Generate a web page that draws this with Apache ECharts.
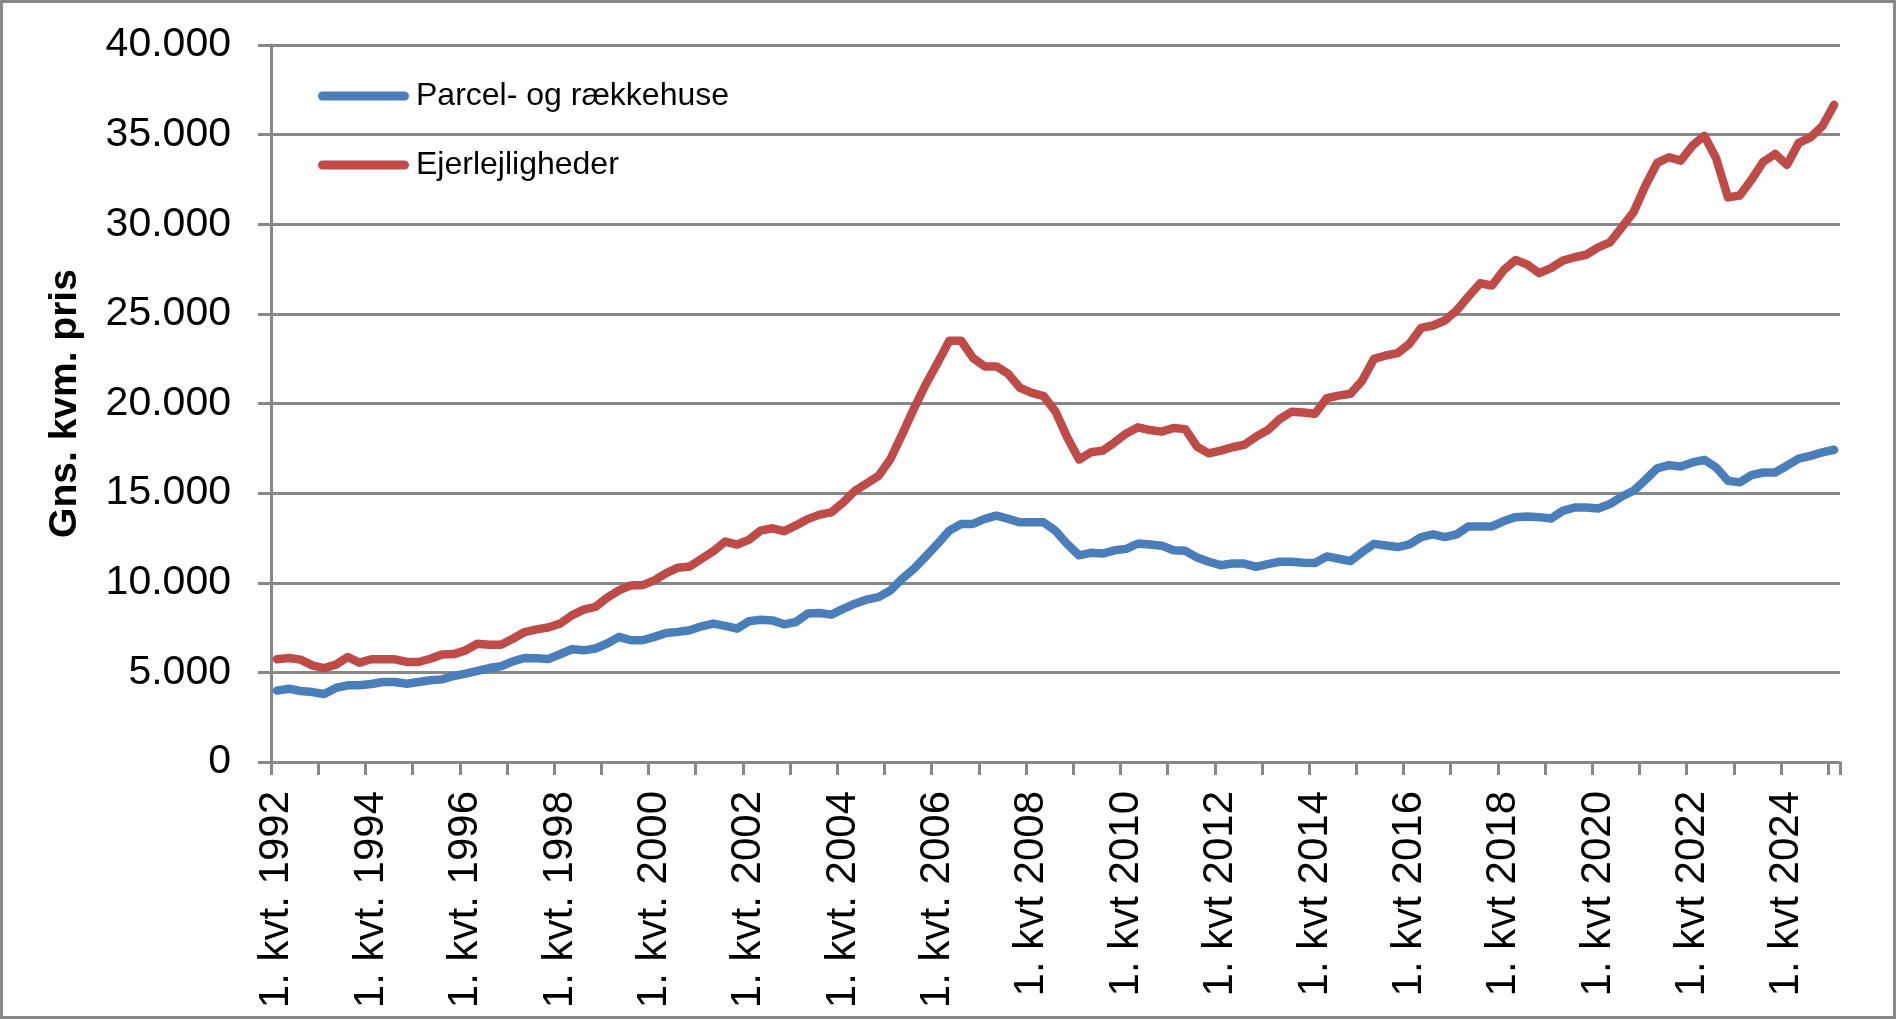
<!DOCTYPE html>
<html>
<head>
<meta charset="utf-8">
<title>Gns. kvm. pris</title>
<script src="https://cdn.jsdelivr.net/npm/echarts@6/dist/echarts.min.js"></script>
<style>
    html, body { margin: 0; padding: 0; background: #fff; }
    #chart { width: 1897px; height: 1020px; }
</style>
</head>
<body>
<div id="chart"></div>
<script>
// data: quarterly, 1. kvt. 1992 - 1. kvt. 2025
var years = [1992, 1993, 1994, 1995, 1996, 1997, 1998, 1999, 2000, 2001, 2002, 2003, 2004, 2005, 2006, 2007,
    2008, 2009, 2010, 2011, 2012, 2013, 2014, 2015, 2016, 2017, 2018, 2019, 2020, 2021, 2022, 2023, 2024, 2025];
var quarters = [1, 2, 3, 4];
var lastQuarter = 1; // only 1. kvt in the last year

var parcelhuse = [
    3980, 4090, 3960, 3900, 3790, 4130, 4280, 4280, 4350, 4460, 4460, 4370, 4460, 4560, 4610, 4800,
    4930, 5090, 5240, 5340, 5610, 5800, 5790, 5750, 6010, 6290, 6230, 6330, 6610, 6980, 6790, 6790,
    6980, 7200, 7260, 7350, 7570, 7720, 7590, 7440, 7850, 7940, 7900, 7680, 7810, 8280, 8310, 8220,
    8540, 8830, 9060, 9200, 9570, 10220, 10780, 11460, 12170, 12910, 13280, 13280, 13560, 13740, 13560, 13370,
    13370, 13370, 12900, 12150, 11530, 11670, 11630, 11810, 11890, 12190, 12130, 12070, 11810, 11780, 11410, 11170,
    10980, 11070, 11070, 10890, 11040, 11170, 11170, 11110, 11100, 11470, 11340, 11210, 11710, 12170, 12080, 11990,
    12140, 12550, 12700, 12550, 12700, 13140, 13140, 13140, 13440, 13660, 13700, 13660, 13580, 14010, 14200, 14200,
    14140, 14390, 14810, 15130, 15740, 16380, 16560, 16490, 16710, 16860, 16430, 15690, 15600, 16000, 16150, 16150,
    16530, 16930, 17080, 17270, 17420
];

var ejerlejligheder = [
    5730, 5800, 5710, 5390, 5240, 5430, 5860, 5540, 5730, 5730, 5730, 5580, 5580, 5760, 6000, 6020,
    6230, 6600, 6540, 6540, 6880, 7250, 7400, 7500, 7720, 8180, 8500, 8650, 9170, 9570, 9850, 9870,
    10130, 10540, 10840, 10910, 11340, 11760, 12300, 12130, 12390, 12910, 13040, 12880, 13200, 13550, 13800, 13930,
    14480, 15130, 15540, 15960, 16890, 18280, 19720, 21060, 22260, 23500, 23500, 22540, 22070, 22070, 21650, 20870,
    20590, 20410, 19550, 18100, 16870, 17280, 17370, 17830, 18330, 18670, 18520, 18430, 18630, 18570, 17590, 17220,
    17370, 17560, 17700, 18150, 18520, 19130, 19540, 19500, 19430, 20300, 20440, 20540, 21280, 22490, 22680, 22810,
    23330, 24220, 24350, 24630, 25190, 25970, 26710, 26580, 27450, 28010, 27750, 27270, 27550, 27970, 28160, 28300,
    28710, 28990, 29830, 30670, 32150, 33420, 33740, 33550, 34390, 34940, 33680, 31500, 31600, 32490, 33490, 33920,
    33310, 34540, 34850, 35470, 36660
];

var yTicks = [0, 5000, 10000, 15000, 20000, 25000, 30000, 35000, 40000];

// kategorier: "1. kvt. 1992" ... fra 2007 skrives "kvt" uden punktum
var categories = [];
years.forEach(function (y, yi) {
    quarters.forEach(function (q) {
        if (yi === years.length - 1 && q > lastQuarter) return;
        categories.push(q + (y < 2007 ? '. kvt. ' : '. kvt ') + y);
    });
});

var chart = echarts.init(document.getElementById('chart'));
var gray = '#888888';
var font = 'Liberation Sans';

function tusind(v) {
    return String(v).replace(/\B(?=(\d{3})+(?!\d))/g, '.');
}

var option = {
    animation: false,
    backgroundColor: '#ffffff',
    textStyle: { fontFamily: font, color: '#000' },
    grid: { left: 271, right: 57, top: 45, bottom: 258 },
    graphic: [{
        type: 'rect',
        shape: { x: 1.5, y: 1.5, width: 1893, height: 1016 },
        style: { fill: 'none', stroke: gray, lineWidth: 3 },
        silent: true
    }],
    legend: {
        orient: 'vertical',
        left: 318,
        top: 80,
        padding: 0,
        itemGap: 37,
        itemWidth: 91,
        itemHeight: 9,
        icon: 'path://M4.5,0 L86.5,0 A4.5,4.5 0 0 1 86.5,9 L4.5,9 A4.5,4.5 0 0 1 4.5,0 Z',
        textStyle: { fontFamily: font, fontSize: 32, color: '#000', padding: [0, 0, 0, 2] },
        data: ['Parcel- og rækkehuse', 'Ejerlejligheder']
    },
    xAxis: {
        type: 'category',
        data: categories,
        boundaryGap: true,
        axisLine: { lineStyle: { color: gray, width: 3 } },
        axisTick: { show: true, interval: 3, length: 13, lineStyle: { color: gray, width: 3 } },
        axisLabel: {
            interval: 7,
            rotate: 90,
            margin: 29,
            fontSize: 42,
            fontFamily: font,
            color: '#000'
        },
        splitLine: { show: false }
    },
    yAxis: {
        type: 'value',
        min: yTicks[0],
        max: yTicks[yTicks.length - 1],
        interval: yTicks[1] - yTicks[0],
        name: 'Gns. kvm. pris',
        nameLocation: 'middle',
        nameGap: 186,
        nameTextStyle: { fontFamily: font, fontSize: 39, fontWeight: 'bold', color: '#000' },
        axisLine: { show: true, lineStyle: { color: gray, width: 3 } },
        axisTick: { show: true, length: 13, lineStyle: { color: gray, width: 3 } },
        axisLabel: {
            margin: 40,
            fontSize: 41,
            fontFamily: font,
            color: '#000',
            formatter: tusind
        },
        splitLine: { show: true, lineStyle: { color: gray, width: 3 } }
    },
    series: [
        {
            name: 'Parcel- og rækkehuse',
            type: 'line',
            data: parcelhuse,
            showSymbol: false,
            symbol: 'none',
            color: '#4a7ebb',
            lineStyle: { width: 8.5, color: '#4a7ebb', cap: 'round', join: 'round' }
        },
        {
            name: 'Ejerlejligheder',
            type: 'line',
            data: ejerlejligheder,
            showSymbol: false,
            symbol: 'none',
            color: '#be4b48',
            lineStyle: { width: 8.5, color: '#be4b48', cap: 'round', join: 'round' }
        }
    ]
};

chart.setOption(option);
</script>
</body>
</html>
